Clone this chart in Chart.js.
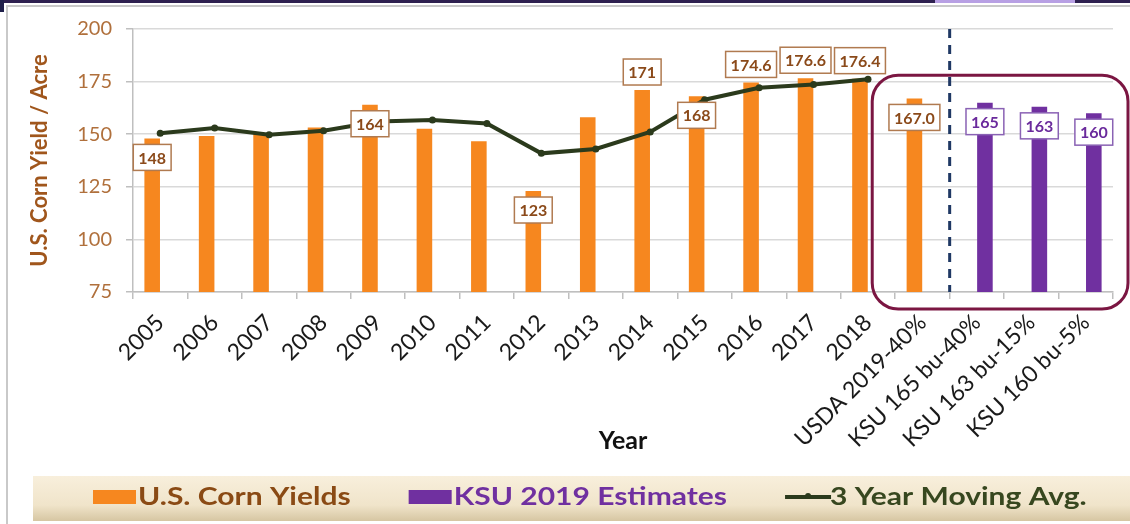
<!DOCTYPE html>
<html><head><meta charset="utf-8">
<script src="https://cdn.jsdelivr.net/npm/chart.js@4.4.1/dist/chart.umd.min.js"></script>
<style>html,body{margin:0;padding:0;background:#fff;overflow:hidden}canvas{display:block}</style>
</head><body>
<canvas id="c" width="1130" height="524"></canvas>
<script>
// ---------- data ----------
const categories = ['2005','2006','2007','2008','2009','2010','2011','2012','2013','2014','2015','2016','2017','2018',
  'USDA 2019-40%','KSU 165 bu-40%','KSU 163 bu-15%','KSU 160 bu-5%'];
const usCornYields = [148,149.1,150.2,153.2,164,152.6,146.6,123,158.1,171,168,174.6,176.6,176.4,167.0,null,null,null];
const ksuEstimates = [null,null,null,null,null,null,null,null,null,null,null,null,null,null,null,165,163,160];
const movingAvg = [150.4,152.9,149.7,151.6,156.0,156.7,155.1,140.9,143.0,151.1,166.4,172.1,173.6,176.1,null,null,null,null];
const yieldLabels = ['148',null,null,null,'164',null,null,'123',null,'171','168','174.6','176.6','176.4','167.0',null,null,null];
const ksuLabels = [null,null,null,null,null,null,null,null,null,null,null,null,null,null,null,'165','163','160'];
const yieldLabelSide = ['below',null,null,null,'below',null,null,'below',null,'above','below','above','above','above','below',null,null,null];
const ksuLabelSide = [null,null,null,null,null,null,null,null,null,null,null,null,null,null,null,'below','below','below'];
const yTicks = [75,100,125,150,175,200];
const seriesNames = ['U.S. Corn Yields','KSU 2019 Estimates','3 Year Moving Avg.'];
const yAxisTitle = 'U.S. Corn Yield / Acre';
const xAxisTitle = 'Year';

// ---------- styles ----------
const ORANGE = '#f6871f', PURPLE = '#7030a0', GREEN = '#2b3a1c';
const FONT = 'Lato, "Open Sans", sans-serif';

const framePlugin = {
  id: 'frame',
  beforeDraw(chart) {
    const ctx = chart.ctx, W = chart.width, H = chart.height;
    ctx.save();
    ctx.fillStyle = '#ffffff'; ctx.fillRect(0, 0, W, H);
    ctx.fillStyle = '#2e2150'; ctx.fillRect(0, 0, W, 3);
    ctx.fillStyle = '#b8a0e4'; ctx.fillRect(935, 0, 140, 3);
    ctx.fillStyle = '#1f1f4a'; ctx.fillRect(0, 0, 4, 12);
    ctx.strokeStyle = '#c9c9c9'; ctx.lineWidth = 2;
    ctx.beginPath(); ctx.moveTo(7, H); ctx.lineTo(7, 6); ctx.lineTo(W, 6); ctx.stroke();
    // legend band
    const g = ctx.createLinearGradient(0, 476, 0, 521);
    g.addColorStop(0, '#f8efdc'); g.addColorStop(0.65, '#f0e4ca'); g.addColorStop(1, '#d6c6a2');
    ctx.fillStyle = g; ctx.fillRect(33, 476, W - 33, 45);
    ctx.restore();
  }
};

const annotPlugin = {
  id: 'annot',
  afterDatasetsDraw(chart) {
    const ctx = chart.ctx, xs = chart.scales.x, ys = chart.scales.y, ca = chart.chartArea;
    const cw = xs.getPixelForValue(1) - xs.getPixelForValue(0);
    const ksuIdx = categories.findIndex(c => c.startsWith('KSU'));
    const usdaIdx = categories.findIndex(c => c.startsWith('USDA'));
    ctx.save();
    // dashed separator
    const dx = xs.getPixelForValue(ksuIdx) - cw / 2;
    ctx.strokeStyle = '#1f3864'; ctx.lineWidth = 3; ctx.setLineDash([9, 7]);
    ctx.beginPath(); ctx.moveTo(dx, ca.top); ctx.lineTo(dx, ca.bottom); ctx.stroke();
    ctx.setLineDash([]);
    // data labels
    const drawLabels = (dsIndex, texts, sides, txtColor, borderColor) => {
      const meta = chart.getDatasetMeta(dsIndex);
      ctx.font = 'bold 16px ' + FONT;
      ctx.textAlign = 'center'; ctx.textBaseline = 'middle';
      texts.forEach((t, i) => {
        if (!t) return;
        const el = meta.data[i];
        const cy = sides[i] === 'above' ? el.y - 18 : el.y + 19;
        const w = ctx.measureText(t).width + 10, h = 26;
        ctx.fillStyle = '#ffffff';
        ctx.fillRect(el.x - w / 2, cy - h / 2, w, h);
        ctx.strokeStyle = borderColor; ctx.lineWidth = 1.5;
        ctx.strokeRect(el.x - w / 2, cy - h / 2, w, h);
        ctx.fillStyle = txtColor;
        ctx.fillText(t, el.x, cy + 1);
      });
    };
    drawLabels(0, yieldLabels, yieldLabelSide, '#8b4a1a', '#b07a50');
    drawLabels(1, ksuLabels, ksuLabelSide, '#6a2a9c', '#8a62b4');
    // rounded highlight box
    const L = xs.getPixelForValue(usdaIdx) - cw / 2 - 23;
    const R = ca.right + 15;
    const T = ys.getPixelForValue(178);
    const B = ca.bottom + 17;
    ctx.strokeStyle = '#7b1642'; ctx.lineWidth = 3;
    ctx.beginPath(); ctx.roundRect(L, T, R - L, B - T, 26); ctx.stroke();
    ctx.restore();
  }
};

const legendPlugin = {
  id: 'customLegend',
  afterDraw(chart) {
    const ctx = chart.ctx;
    const ds = chart.data.datasets;
    const textColors = ['#8a4a14', '#7030a0', '#37471f'];
    const SX = 1.25, cy = 497;
    ctx.save();
    ctx.font = 'bold 24px ' + FONT;
    ctx.textBaseline = 'middle'; ctx.textAlign = 'left';
    let x = 93;
    ds.forEach((d, i) => {
      if (d.type === 'line') {
        ctx.strokeStyle = d.borderColor; ctx.lineWidth = 4;
        ctx.beginPath(); ctx.moveTo(x, cy); ctx.lineTo(x + 46, cy); ctx.stroke();
        ctx.fillStyle = d.borderColor;
        ctx.beginPath(); ctx.arc(x + 23, cy - 1, 3, 0, Math.PI * 2); ctx.fill();
      } else {
        ctx.fillStyle = d.backgroundColor;
        ctx.fillRect(x, cy - 7, 43, 14);
      }
      x += 45;
      ctx.fillStyle = textColors[i];
      ctx.save(); ctx.translate(x, cy); ctx.scale(SX, 1); ctx.fillText(d.label, 0, 0); ctx.restore();
      x += ctx.measureText(d.label).width * SX + 58;
    });
    ctx.restore();
  }
};

new Chart(document.getElementById('c'), {
  data: {
    labels: categories,
    datasets: [
      { type: 'bar', label: seriesNames[0], data: usCornYields, backgroundColor: ORANGE, order: 1,
        categoryPercentage: 0.59, barPercentage: 0.97 },
      { type: 'bar', label: seriesNames[1], data: ksuEstimates, backgroundColor: PURPLE, order: 1,
        categoryPercentage: 0.59, barPercentage: 0.97 },
      { type: 'line', label: seriesNames[2], data: movingAvg, borderColor: GREEN, backgroundColor: GREEN,
        borderWidth: 4, pointRadius: 3.5, pointBackgroundColor: GREEN, pointBorderWidth: 0, tension: 0, order: 0,
        spanGaps: false }
    ]
  },
  options: {
    responsive: false, animation: false, devicePixelRatio: 1,
    layout: { padding: { left: 0, right: 17, top: 29, bottom: 58 } },
    plugins: { legend: { display: false }, tooltip: { enabled: false } },
    scales: {
      x: {
        offset: true,
        grid: { display: true, drawOnChartArea: false, drawTicks: true, tickLength: 7, color: '#bfbfbf', lineWidth: 1.5, offset: true },
        border: { color: '#bfbfbf', width: 1.5 },
        ticks: { color: '#1a1a1a', font: { family: FONT, size: 23 }, minRotation: 45, maxRotation: 45, padding: 10, autoSkip: false },
        title: { display: true, text: xAxisTitle, color: '#111', font: { family: FONT, size: 25, weight: 'bold' }, padding: { top: 0, bottom: 10 } },
        afterFit(s) { s.height = 174; }
      },
      y: {
        min: 75, max: 200,
        afterBuildTicks(s) { s.ticks = yTicks.map(v => ({ value: v })); },
        grid: { color: '#d9d9d9', lineWidth: 1.5, tickLength: 7, tickColor: '#bfbfbf' },
        border: { color: '#bfbfbf', width: 1.5 },
        ticks: { color: '#b0703c', font: { family: FONT, size: 20 }, padding: 14 },
        title: { display: true, text: yAxisTitle, color: '#a0561c', font: { family: FONT, size: 22, weight: 'bold' }, padding: { top: 27, bottom: 0 } },
        afterFit(s) { s.width = 133; }
      }
    }
  },
  plugins: [framePlugin, annotPlugin, legendPlugin]
});
</script>
</body></html>
